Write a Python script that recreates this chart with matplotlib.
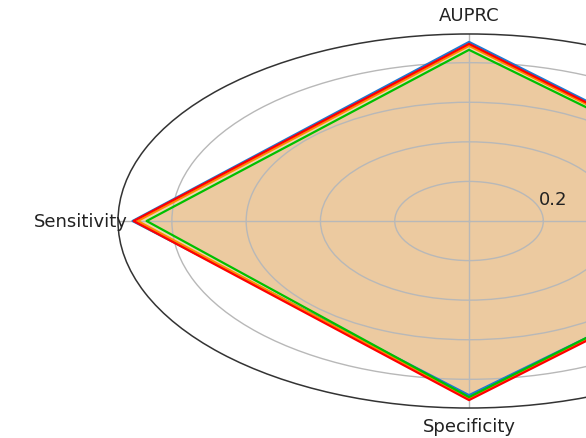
import numpy as np
import matplotlib
matplotlib.use("Agg")
import matplotlib.pyplot as plt

# metrics on the radar, counter-clockwise from the right
metrics = ["AUROC", "AUPRC", "Sensitivity", "Specificity"]

# one row per model, same order as metrics
model_a = [0.960, 0.905, 0.906, 0.880]   # blue
model_b = [0.955, 0.895, 0.903, 0.905]   # red
model_c = [0.950, 0.885, 0.892, 0.895]   # orange
model_d = [0.940, 0.865, 0.868, 0.890]   # green

series = [
    (model_a, "#1f78d1"),
    (model_c, "#ff8c00"),
    (model_d, "#00c000"),
    (model_b, "#ff0000"),
]
fill_color = "#dc9a45"

r_ticks = [0.2, 0.4, 0.6, 0.8]
r_max = 0.945

# how far out each metric name sits (in radial units)
label_r = [1.06, 1.04, 1.045, 1.035]

angles = np.linspace(0, 2 * np.pi, len(metrics), endpoint=False)
closed = np.concatenate([angles, angles[:1]])

fig = plt.figure(figsize=(5.86, 4.39), dpi=100)
ax = fig.add_axes([0.2014, 0.0683, 1.198, 0.852], projection="polar")
ax.set_aspect("auto")  # let the radar stretch to the wide axes box

for vals, col in series:
    v = np.concatenate([vals, vals[:1]])
    ax.fill(closed, v, color=fill_color, alpha=0.16, lw=0)
    ax.plot(closed, v, color=col, lw=1.6)

ax.set_xticks(angles)
ax.set_xticklabels([])
for ang, name, r in zip(angles, metrics, label_r):
    ax.text(ang, r, name, ha="center", va="center", fontsize=13,
            color="#222222", clip_on=False)

ax.set_yticks(r_ticks)
ax.set_yticklabels([f"{t:.1f}" for t in r_ticks], fontsize=13, color="#222222")
ax.set_rlabel_position(19)
ax.set_ylim(0, r_max)
ax.grid(color="#b8b8b8", lw=1.0)
ax.spines["polar"].set_color("#333333")
ax.spines["polar"].set_linewidth(1.1)

fig.savefig("out.png", dpi=100)
